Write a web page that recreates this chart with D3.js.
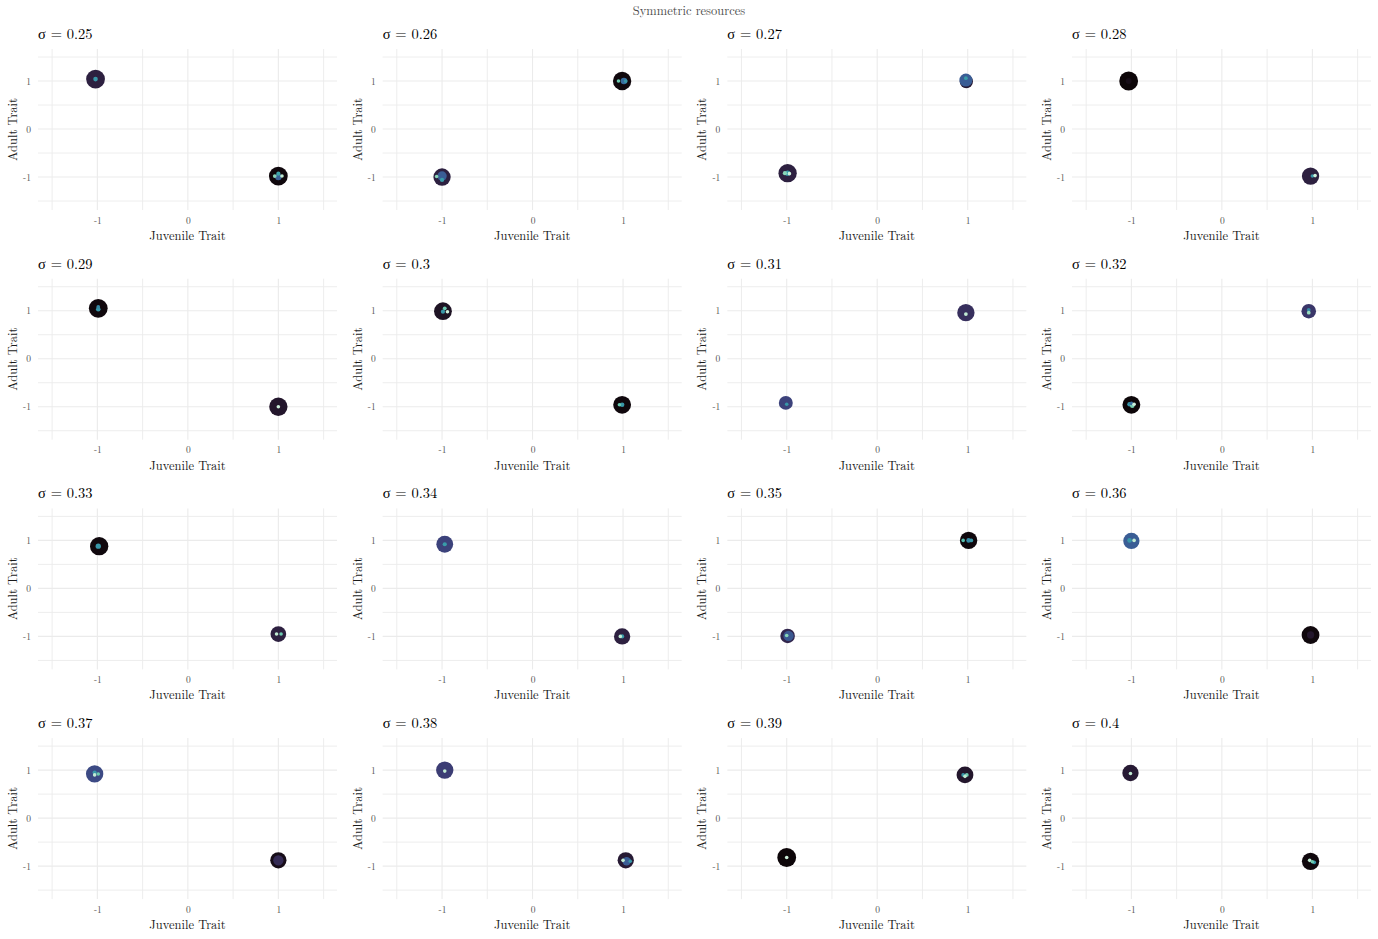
<!DOCTYPE html>
<html>
<head>
<meta charset="utf-8">
<script src="https://cdn.jsdelivr.net/npm/d3@7"></script>
<style>
  html, body { margin: 0; padding: 0; background: #fff; }
  svg { display: block; }
  text { font-family: "Latin Modern Roman", "CMU Serif", "Liberation Serif", serif; }
</style>
</head>
<body>
<svg id="chart" width="1378" height="939"></svg>
<script>
// ---------- data ----------
const mainTitle = "Symmetric resources";
const sigmas = [0.25, 0.26, 0.27, 0.28, 0.29, 0.3, 0.31, 0.32, 0.33, 0.34, 0.35, 0.36, 0.37, 0.38, 0.39, 0.4];
const xTicks = [-1, 0, 1];
const yTicks = [-1, 0, 1];
const gridMinor = [-1.5, -0.5, 0.5, 1.5];
const xLabel = "Juvenile Trait";
const yLabel = "Adult Trait";
const makoStops = ["#0B0405", "#2E1E3C", "#413D7B", "#37659E", "#348FA7", "#40B7AD", "#8AD9B1", "#DEF5E5"];

// points: [panelIndex, juvenileTrait, adultTrait, abundance, time(0..1 colour)]
const points = [
  // 0.25
  [0, -1.02, 1.04, 1.00, 0.15], [0, -1.02, 1.04, 0.06, 0.60],
  [0, 1.00, -0.98, 1.00, 0.02], [0, 1.00, -1.00, 0.12, 0.42], [0, 1.00, -0.93, 0.05, 0.65],
  [0, 0.96, -0.98, 0.04, 0.85], [0, 1.04, -0.98, 0.03, 0.95],
  // 0.26
  [1, 0.99, 1.00, 0.95, 0.02], [1, 1.01, 1.00, 0.12, 0.45], [1, 1.03, 1.00, 0.04, 0.60], [1, 0.95, 1.00, 0.03, 0.80],
  [1, -1.00, -1.00, 0.85, 0.15], [1, -1.00, -0.98, 0.25, 0.40], [1, -1.00, -1.06, 0.05, 0.62], [1, -1.06, -0.99, 0.02, 0.85],
  // 0.27
  [2, 0.985, 0.99, 0.50, 0.12], [2, 0.98, 1.02, 0.48, 0.40], [2, 0.98, 1.06, 0.04, 0.62],
  [2, -0.99, -0.92, 0.95, 0.15], [2, -0.99, -0.92, 0.08, 0.62], [2, -1.02, -0.92, 0.05, 0.85], [2, -0.97, -0.93, 0.03, 0.97],
  // 0.28
  [3, -1.03, 1.00, 1.00, 0.01], [3, -1.03, 1.00, 0.10, 0.05],
  [3, 0.98, -0.98, 0.85, 0.15], [3, 1.00, -0.98, 0.03, 0.60], [3, 1.03, -0.97, 0.03, 0.97],
  // 0.29
  [4, -0.99, 1.05, 1.00, 0.02], [4, -0.99, 1.03, 0.06, 0.60], [4, -0.99, 1.08, 0.04, 0.55],
  [4, 1.00, -1.00, 0.95, 0.10], [4, 1.00, -1.00, 0.03, 0.97],
  // 0.3
  [5, -0.99, 0.99, 0.90, 0.08], [5, -0.99, 0.98, 0.05, 0.60], [5, -0.97, 1.05, 0.04, 0.80], [5, -0.94, 0.98, 0.03, 0.97],
  [5, 0.99, -0.96, 0.90, 0.02], [5, 0.99, -0.96, 0.06, 0.60], [5, 0.96, -0.96, 0.03, 0.80],
  // 0.31
  [6, 0.98, 0.96, 0.85, 0.22], [6, 0.98, 0.93, 0.04, 0.95],
  [6, -1.01, -0.92, 0.55, 0.30], [6, -1.00, -0.95, 0.03, 0.60],
  // 0.32
  [7, 0.96, 0.99, 0.60, 0.25], [7, 0.96, 1.02, 0.04, 0.55], [7, 0.96, 0.96, 0.04, 0.88],
  [7, -1.00, -0.96, 0.90, 0.01], [7, -1.02, -0.95, 0.06, 0.60], [7, -0.99, -0.98, 0.06, 0.82],
  [7, -0.97, -0.95, 0.03, 0.97], [7, -1.00, -0.93, 0.04, 0.45],
  // 0.33
  [8, -0.98, 0.88, 0.95, 0.02], [8, -0.99, 0.88, 0.08, 0.60],
  [8, 1.00, -0.95, 0.70, 0.15], [8, 0.98, -0.95, 0.03, 0.95], [8, 1.03, -0.95, 0.03, 0.80],
  // 0.34
  [9, -0.97, 0.92, 0.80, 0.30], [9, -0.97, 0.92, 0.05, 0.62],
  [9, 0.99, -1.00, 0.75, 0.15], [9, 0.99, -1.00, 0.05, 0.62], [9, 0.97, -1.00, 0.03, 0.95],
  // 0.35
  [10, 1.01, 1.00, 0.85, 0.02], [10, 1.01, 1.00, 0.06, 0.55], [10, 1.04, 1.00, 0.04, 0.60], [10, 0.95, 1.00, 0.03, 0.75],
  [10, -0.99, -0.99, 0.60, 0.18], [10, -0.98, -0.99, 0.30, 0.38], [10, -1.00, -0.98, 0.03, 0.85],
  // 0.36
  [11, -1.00, 0.99, 0.75, 0.40], [11, -1.02, 1.00, 0.06, 0.60], [11, -0.97, 1.00, 0.03, 0.95],
  [11, 0.98, -0.97, 0.90, 0.02], [11, 0.98, -0.97, 0.15, 0.10],
  // 0.37
  [12, -1.03, 0.92, 0.85, 0.33], [12, -1.03, 0.95, 0.05, 0.60], [12, -1.03, 0.90, 0.03, 0.95], [12, -0.99, 0.92, 0.03, 0.80],
  [12, 1.00, -0.88, 0.75, 0.05], [12, 1.00, -0.88, 0.30, 0.20],
  // 0.38
  [13, -0.97, 1.00, 0.85, 0.28], [13, -0.97, 0.98, 0.03, 0.95],
  [13, 1.03, -0.88, 0.75, 0.12], [13, 1.04, -0.90, 0.20, 0.40], [13, 1.08, -0.90, 0.03, 0.60], [13, 1.00, -0.88, 0.03, 0.95],
  // 0.39
  [14, 0.97, 0.90, 0.80, 0.10], [14, 0.95, 0.90, 0.04, 0.60], [14, 0.99, 0.90, 0.04, 0.80], [14, 0.97, 0.87, 0.03, 0.95],
  [14, -1.00, -0.82, 1.00, 0.01], [14, -1.00, -0.82, 0.03, 0.97],
  // 0.4
  [15, -1.01, 0.94, 0.75, 0.12], [15, -1.01, 0.93, 0.03, 0.95],
  [15, 0.98, -0.90, 0.85, 0.02], [15, 1.02, -0.92, 0.04, 0.60], [15, 0.97, -0.88, 0.03, 0.95], [15, 1.00, -0.91, 0.03, 0.80]
];

// ---------- layout ----------
const svg = d3.select("#chart");
const nCols = 4;
const panelW = 299, panelH = 161;
const colStep = 344.67, rowStep = 229.7;
const left0 = 38, top0 = 49;
const fontStack = '"Latin Modern Roman", "CMU Serif", "Liberation Serif", serif';

const x = d3.scaleLinear().domain([-1.656, 1.648]).range([0, panelW]);
const y = d3.scaleLinear().domain([-1.687, 1.667]).range([panelH, 0]);
const rScale = d3.scaleSqrt().domain([0, 1]).range([0, 9.4]);
const colour = d3.scaleSequential(d3.interpolateRgbBasis(makoStops)).domain([0, 1]);

svg.append("text")
  .attr("x", 689).attr("y", 15)
  .attr("text-anchor", "middle")
  .attr("font-size", 12.5)
  .attr("fill", "#4d4d4d")
  .text(mainTitle);

const gridVals = d3.sort(xTicks.concat(gridMinor));

sigmas.forEach((s, i) => {
  const col = i % nCols, row = Math.floor(i / nCols);
  const g = svg.append("g")
    .attr("transform", `translate(${left0 + col * colStep},${top0 + row * rowStep})`);

  // grid
  const grid = g.append("g");
  grid.selectAll("line.v").data(gridVals).join("line")
    .attr("x1", d => x(d)).attr("x2", d => x(d))
    .attr("y1", 0).attr("y2", panelH)
    .attr("stroke", "#ebebeb")
    .attr("stroke-width", d => xTicks.includes(d) ? 1.1 : 0.9);
  grid.selectAll("line.h").data(gridVals).join("line")
    .attr("y1", d => y(d)).attr("y2", d => y(d))
    .attr("x1", 0).attr("x2", panelW)
    .attr("stroke", "#ebebeb")
    .attr("stroke-width", d => yTicks.includes(d) ? 1.1 : 0.9);

  // axes (labels only)
  const xAxis = d3.axisBottom(x).tickValues(xTicks).tickSize(0).tickPadding(0).tickFormat(d => String(d));
  const xa = g.append("g").attr("transform", `translate(0,${panelH + 13.5})`).call(xAxis);
  xa.select(".domain").remove();
  xa.selectAll("text").attr("font-size", 9.5).attr("fill", "#4d4d4d").attr("dy", 0)
    .attr("font-family", fontStack);

  const yAxis = d3.axisLeft(y).tickValues(yTicks).tickSize(0).tickPadding(0).tickFormat(d => String(d));
  const ya = g.append("g").attr("transform", `translate(-7,0)`).call(yAxis);
  ya.select(".domain").remove();
  ya.selectAll("text").attr("font-size", 9.5).attr("fill", "#4d4d4d")
    .attr("font-family", fontStack);

  // axis titles
  g.append("text")
    .attr("x", panelW / 2).attr("y", panelH + 30)
    .attr("text-anchor", "middle")
    .attr("font-size", 12.5).attr("fill", "#1a1a1a")
    .text(xLabel);
  g.append("text")
    .attr("transform", `translate(-21,${panelH / 2}) rotate(-90)`)
    .attr("text-anchor", "middle")
    .attr("font-size", 12.5).attr("fill", "#1a1a1a")
    .text(yLabel);

  // panel title
  g.append("text")
    .attr("x", 0).attr("y", -10)
    .attr("font-size", 14.5).attr("fill", "#000")
    .text(`σ = ${s}`);

  // points
  const pts = points.filter(p => p[0] === i).slice().sort((a, b) => b[3] - a[3]);
  g.append("g").selectAll("circle").data(pts).join("circle")
    .attr("cx", d => x(d[1]))
    .attr("cy", d => y(d[2]))
    .attr("r", d => Math.max(1.8, rScale(d[3])))
    .attr("fill", d => colour(d[4]));
});
</script>
</body>
</html>
